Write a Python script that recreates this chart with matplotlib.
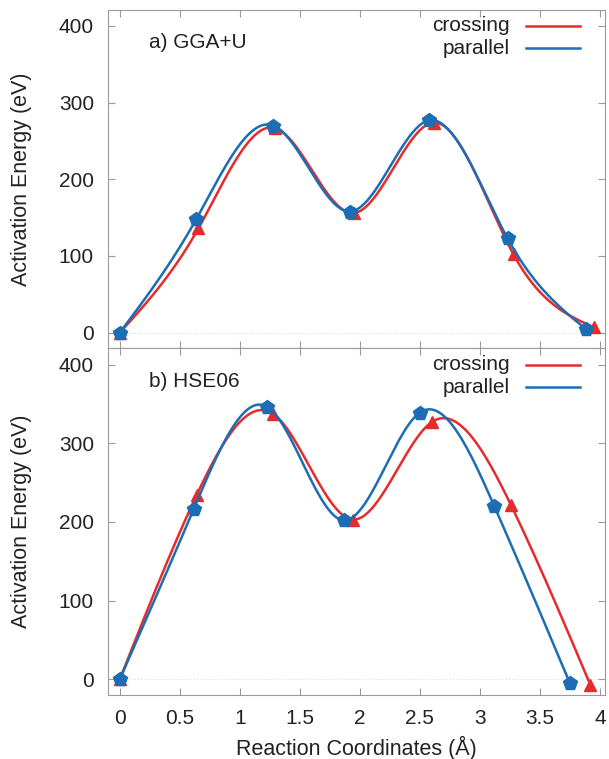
import numpy as np
import matplotlib
matplotlib.use("Agg")
import matplotlib.pyplot as plt

plt.rcParams["font.family"] = ["Liberation Sans", "DejaVu Sans"]

# Dados (coordenada em Å, energia em eV)
x_cross_a = [0.0, 0.655, 1.29, 1.95, 2.62, 3.28, 3.95]
y_cross_a = [0, 136, 267, 156, 274, 102, 7]
x_par_a = [0.0, 0.637, 1.28, 1.92, 2.58, 3.23, 3.88]
y_par_a = [0, 148, 270, 158, 277, 123, 5]

x_cross_b = [0.0, 0.64, 1.28, 1.945, 2.60, 3.26, 3.92]
y_cross_b = [0, 234, 337, 203, 327, 221, -7]
x_par_b = [0.0, 0.615, 1.23, 1.865, 2.50, 3.12, 3.75]
y_par_b = [0, 216, 346, 202, 339, 220, -5]

painel_rotulos = ["a) GGA+U", "b) HSE06"]
xticks = [0, 0.5, 1, 1.5, 2, 2.5, 3, 3.5, 4]
xtick_labels = ["0", "0.5", "1", "1.5", "2", "2.5", "3", "3.5", "4"]
yticks = [0, 100, 200, 300, 400]

vermelho = "#e52b2b"
azul = "#1b6db4"
cinza = "#9a9a9a"
texto = "#222222"


def spline_natural(x, y, n=300):
    # spline cúbica natural (como 'smooth csplines' do gnuplot)
    x = np.asarray(x, float)
    y = np.asarray(y, float)
    m = len(x)
    h = np.diff(x)
    A = np.zeros((m, m))
    b = np.zeros(m)
    A[0, 0] = A[-1, -1] = 1
    for i in range(1, m - 1):
        A[i, i - 1] = h[i - 1]
        A[i, i] = 2 * (h[i - 1] + h[i])
        A[i, i + 1] = h[i]
        b[i] = 6 * ((y[i + 1] - y[i]) / h[i] - (y[i] - y[i - 1]) / h[i - 1])
    M = np.linalg.solve(A, b)
    xs = np.linspace(x[0], x[-1], n)
    idx = np.clip(np.searchsorted(x, xs) - 1, 0, m - 2)
    x0, x1 = x[idx], x[idx + 1]
    hh = x1 - x0
    ys = (M[idx] * (x1 - xs) ** 3 / (6 * hh) + M[idx + 1] * (xs - x0) ** 3 / (6 * hh)
          + (y[idx] / hh - M[idx] * hh / 6) * (x1 - xs)
          + (y[idx + 1] / hh - M[idx + 1] * hh / 6) * (xs - x0))
    return xs, ys


fig = plt.figure(figsize=(6.09, 7.59), dpi=100)
ax_a = fig.add_axes([0.177, 0.5415, 0.816, 0.4455])
ax_b = fig.add_axes([0.177, 0.0843, 0.816, 0.4572])

dados = [
    (ax_a, x_cross_a, y_cross_a, x_par_a, y_par_a),
    (ax_b, x_cross_b, y_cross_b, x_par_b, y_par_b),
]

for k, (ax, xc, yc, xp, yp) in enumerate(dados):
    ax.axhline(0, color="#dddddd", lw=0.8, ls=":", zorder=0)

    xs, ys = spline_natural(xc, yc)
    ax.plot(xs, ys, color=vermelho, lw=1.8, zorder=2)
    ax.plot(xc, yc, ls="none", marker="^", ms=9, color=vermelho, zorder=3)
    xs, ys = spline_natural(xp, yp)
    ax.plot(xs, ys, color=azul, lw=1.8, zorder=4)
    ax.plot(xp, yp, ls="none", marker="p", ms=10, color=azul, zorder=5)

    ax.set_xlim(-0.1, 4.04)
    ax.set_ylim(-20, 421)
    ax.set_yticks(yticks)
    ax.set_xticks(xticks)
    ax.tick_params(direction="in", top=True, right=True, color=cinza,
                   length=5, labelsize=15, labelcolor=texto, pad=10)
    for s in ax.spines.values():
        s.set_color(cinza)
    ax.set_ylabel("Activation Energy (eV)", fontsize=15.5, color=texto)
    ax.yaxis.set_label_coords(-0.152, 0.5)

    ax.text(0.24, 378, painel_rotulos[k], fontsize=15, color=texto, va="center")

    # legenda no estilo gnuplot
    ax.text(3.25, 400, "crossing", fontsize=15, ha="right", va="center", color=texto)
    ax.text(3.25, 371, "parallel", fontsize=15, ha="right", va="center", color=texto)
    ax.plot([3.38, 3.83], [400, 400], color=vermelho, lw=1.8)
    ax.plot([3.38, 3.83], [371, 371], color=azul, lw=1.8)

ax_a.tick_params(labelbottom=False)
ax_b.set_xticklabels(xtick_labels)
ax_b.set_xlabel("Reaction Coordinates (Å)", fontsize=15.5, color=texto, labelpad=6)

fig.savefig("out.png", dpi=100)
